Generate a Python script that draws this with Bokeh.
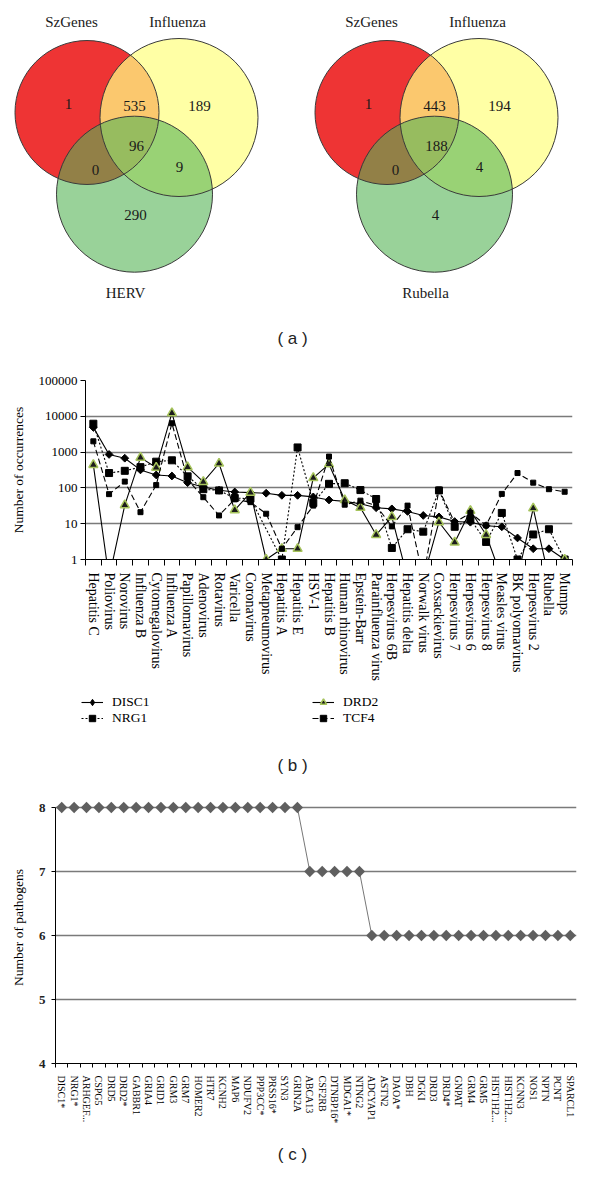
import numpy as np
from bokeh.plotting import figure
from bokeh.models import (Range1d, FixedTicker, CustomJSTickFormatter, NumeralTickFormatter,
                          Legend, LegendItem)
from bokeh.core.properties import value
from bokeh.embed import file_html
from bokeh.resources import INLINE

SERIF = "Liberation Serif"
SANS = "Liberation Sans"

# ---------------- data ----------------
# panel (a): region counts in order
# [only A, A&B, only B, A&B&C, A&C, B&C, only C]
venn1_sets = ["SzGenes", "Influenza", "HERV"]
venn1_counts = [1, 535, 189, 96, 0, 9, 290]
venn2_sets = ["SzGenes", "Influenza", "Rubella"]
venn2_counts = [1, 443, 194, 188, 0, 4, 4]

# panel (b)
viruses = ["Hepatitis C", "Poliovirus", "Norovirus", "Influenza B", "Cytomegalovirus",
           "Influenza A", "Papillomavirus", "Adenovirus", "Rotavirus", "Varicella",
           "Coronavirus", "Metapneumovirus", "Hepatitis A", "Hepatitis E", "HSV-1",
           "Hepatitis B", "Human rhinovirus", "Epstein-Barr", "Parainfluenza virus",
           "Herpesvirus 6B", "Hepatitis delta", "Norwalk virus", "Coxsackievirus",
           "Herpesvirus 7", "Herpesvirus 6", "Herpesvirus 8", "Measles virus",
           "BK polyomavirus", "Herpesvirus 2", "Rubella", "Mumps"]
disc1 = [4900, 860, 675, 318, 230, 215, 140, 106, 86, 77, 74, 71, 62, 62, 56, 46,
         42, 36, 28, 26, 22, 17, 15.5, 11.5, 11, 8.8, 8.2, 4, 2, 2, 1]
nrg1 = [6200, 260, 300, 380, 540, 590, 210, 92, 85, 52, 50, None, 1, 1350, 38, 130,
        135, 87, 49, 2.1, 7, 6, 85, 8.2, 13.5, 3.1, 20, 1, 5, 7, 1]
drd2 = [440, 0, 33, 700, 370, 12300, 380, 147, 480, 24, 74, 1, 2, 2, 190, 460,
        46, 28, 4.9, 15.6, 0, 0, 11, 3, 23, 4.9, 0, 0, 27, 0, 1]
tcf4 = [2000, 67, 150, 21, 120, 6400, 170, 55, 17, 48, 40, 19, 2, 8, 32, 750,
        34, 44, 32, 8.4, 32, 0, 90, 10.8, 20, 9, 68, 260, 140, 92, 78]
occ_ticks = [1, 10, 100, 1000, 10000, 100000]

# panel (c)
genes = ["DISC1*", "NRG1*", "ARHGEF...", "CSPG5", "DRD5", "DRD2*", "GABBR1", "GRIA4",
         "GRID1", "GRM3", "GRM7", "HOMER2", "HTR7", "KCNH2", "MAP6", "NDUFV2",
         "PPP3CC*", "PRSS16*", "SYN3", "GRIN2A", "ABCA13", "CSF2RB", "DTNBP16*",
         "MDGA1*", "NTNG2", "ADCYAP1", "ASTN2", "DAOA*", "DBH", "DGKI", "DRD3",
         "DRD4*", "GNPAT", "GRM4", "GRM5", "HIST1H2...", "HIST1H2...", "KCNN3",
         "NOS1", "NPTN", "PCNT", "SPARCL1"]
pathogens = [8, 8, 8, 8, 8, 8, 8, 8, 8, 8, 8, 8, 8, 8, 8, 8, 8, 8, 8, 8,
             7, 7, 7, 7, 7,
             6, 6, 6, 6, 6, 6, 6, 6, 6, 6, 6, 6, 6, 6, 6, 6, 6]
path_ticks = [4, 5, 6, 7, 8]

# ---------------- panel (a) ----------------
pa = figure(width=584, height=364, x_range=Range1d(8, 592), y_range=Range1d(372, 8),
            output_backend="svg", toolbar_location=None, x_axis_type=None,
            y_axis_type=None, min_border=0)
pa.outline_line_color = None

circles = [(94.5, 120, 72), (186.5, 125, 79), (142, 201.7, 78)]
fills = [("#EE3434", 1.0), ("#FFFF84", 0.73), ("#55B455", 0.6)]
set_label_pos = [(79, 29), (185, 29), (133, 300)]
count_pos = [(76, 111), (142, 113), (207, 113), (144, 153), (103, 177), (187, 174), (143, 222)]

for dx, sets, counts in [(0, venn1_sets, venn1_counts), (300, venn2_sets, venn2_counts)]:
    for (cx, cy, r), (c, a) in zip(circles, fills):
        pa.circle(x=[cx + dx], y=[cy], radius=r, fill_color=c, fill_alpha=a, line_color=None)
    for (cx, cy, r) in circles:
        pa.circle(x=[cx + dx], y=[cy], radius=r, fill_color=None, line_color="#3a3a3a",
                  line_width=1)
    pa.text(x=[p[0] + dx for p in set_label_pos], y=[p[1] for p in set_label_pos], text=sets,
            text_font=value(SERIF), text_font_size="15px", text_align="center",
            text_baseline="middle", text_color="#1a1a1a")
    pa.text(x=[p[0] + dx for p in count_pos], y=[p[1] for p in count_pos],
            text=[str(c) for c in counts], text_font=value(SERIF), text_font_size="15px",
            text_align="center", text_baseline="middle", text_color="#1a1a1a")

pa.text(x=[300], y=[346], text=["( a )"], text_font=value(SANS), text_font_size="17px",
        text_align="center", text_baseline="middle", text_color="#222222")

# ---------------- panel (b) ----------------
n = len(viruses)
pb = figure(width=584, height=323, y_axis_type="log", x_range=Range1d(0, n),
            y_range=Range1d(1, 100000), output_backend="svg", toolbar_location=None,
            min_border_left=85, min_border_right=12, min_border_top=16, min_border_bottom=128)
pb.outline_line_color = None
pb.xgrid.visible = False


def prep(vals):
    xs, ys = [], []
    for i, v in enumerate(vals):
        if v is None:
            continue
        xs.append(i + 0.5)
        ys.append(v if v > 0 else 0.3)
    return xs, ys


styles = {
    "DISC1": dict(dash="solid", marker="square", angle=np.pi / 4, size=5.5,
                  fill="black", line="black", lw=1),
    "NRG1": dict(dash="2 2", marker="square", angle=0, size=7, fill="black", line="black", lw=1),
    "DRD2": dict(dash="solid", marker="triangle", angle=0, size=9, fill="#1c1c1c",
                 line="#A6C45C", lw=1.5),
    "TCF4": dict(dash="6 3", marker="square", angle=0, size=5, fill="black", line="black", lw=1),
}
series = [("DISC1", disc1), ("NRG1", nrg1), ("DRD2", drd2), ("TCF4", tcf4)]
for name, vals in series:
    st = styles[name]
    xs, ys = prep(vals)
    pb.line(xs, ys, line_color="black", line_width=1.1, line_dash=st["dash"])
    pb.scatter(xs, ys, marker=st["marker"], angle=st["angle"], size=st["size"],
               fill_color=st["fill"], line_color=st["line"], line_width=st["lw"])

pb.yaxis.ticker = FixedTicker(ticks=occ_ticks)
pb.yaxis.formatter = NumeralTickFormatter(format="0")
pb.ygrid.grid_line_color = "#7a7a7a"
pb.ygrid.grid_line_width = 1.5
pb.yaxis.axis_line_color = "black"
pb.yaxis.major_tick_out = 5
pb.yaxis.major_tick_in = 0
pb.yaxis.minor_tick_line_color = None
pb.yaxis.major_label_standoff = 3
pb.yaxis.major_label_text_font = SERIF
pb.yaxis.major_label_text_font_size = "13px"
pb.yaxis.major_label_text_color = "black"
pb.yaxis.axis_label = "Number of occurrences"
pb.yaxis.axis_label_text_font = SERIF
pb.yaxis.axis_label_text_font_size = "13.5px"
pb.yaxis.axis_label_text_font_style = "normal"
pb.yaxis.axis_label_text_color = "black"
pb.yaxis.axis_label_standoff = 10

pb.xaxis.ticker = FixedTicker(ticks=list(np.arange(n) + 0.5), minor_ticks=list(np.arange(n + 1)))
pb.xaxis.formatter = CustomJSTickFormatter(args=dict(names=viruses),
                                           code="return names[Math.floor(tick)] || ''")
pb.xaxis.major_tick_out = 0
pb.xaxis.major_tick_in = 0
pb.xaxis.minor_tick_out = 6
pb.xaxis.minor_tick_in = 0
pb.xaxis.minor_tick_line_color = "black"
pb.xaxis.axis_line_color = "black"
pb.xaxis.major_label_orientation = "vertical"
pb.xaxis.major_label_standoff = 7
pb.xaxis.major_label_text_font = SERIF
pb.xaxis.major_label_text_font_size = "14px"
pb.xaxis.major_label_text_color = "black"

# legend + caption (b); the series renderers here fall outside this figure's ranges,
# they only supply the legend glyphs
pbl = figure(width=584, height=100, x_range=Range1d(89, 592), y_range=Range1d(795, 702),
             output_backend="svg", toolbar_location=None, x_axis_type=None, y_axis_type=None,
             min_border_left=81, min_border_top=7, min_border_right=0, min_border_bottom=0)
pbl.outline_line_color = None
legend_markers = {"DISC1": ("diamond", 10), "NRG1": ("square", 7),
                  "DRD2": ("triangle", 9), "TCF4": ("square", 5)}
items = []
for name, vals in series:
    st = styles[name]
    mk, sz = legend_markers[name]
    xs, ys = prep(vals)
    lr = pbl.line(xs, ys, line_color="black", line_width=1.1, line_dash=st["dash"])
    mr = pbl.scatter(xs, ys, marker=mk, size=sz,
                     fill_color=st["fill"], line_color=st["line"], line_width=st["lw"])
    items.append(LegendItem(label=name, renderers=[lr, mr]))
leg = Legend(items=items, location="top_left", orientation="vertical", ncols=2, margin=0,
             padding=2, spacing=0, glyph_width=22, glyph_height=16, label_height=16,
             label_width=200, label_standoff=9, border_line_color=None,
             background_fill_alpha=0, label_text_font=SERIF, label_text_font_size="13.5px",
             label_text_color="black")
pbl.add_layout(leg)
pbl.text(x=[300], y=[773], text=["( b )"], text_font=value(SANS), text_font_size="17px",
         text_align="center", text_baseline="middle", text_color="#222222")

# ---------------- panel (c) ----------------
m = len(genes)
pc = figure(width=584, height=350, x_range=Range1d(0, m), y_range=Range1d(4, 8.25),
            output_backend="svg", toolbar_location=None,
            min_border_left=55, min_border_right=8, min_border_top=4, min_border_bottom=74)
pc.outline_line_color = None
pc.xgrid.visible = False
xg = np.arange(m) + 0.5
pc.line(xg, pathogens, line_color="#777777", line_width=1)
pc.scatter(xg, pathogens, marker="square", angle=np.pi / 4, size=8, fill_color="#5f5f5f",
           line_color=None)

pc.yaxis.ticker = FixedTicker(ticks=path_ticks)
pc.yaxis.bounds = (4, 8)
pc.ygrid.grid_line_color = "#7a7a7a"
pc.ygrid.grid_line_width = 1.5
pc.yaxis.axis_line_color = "black"
pc.yaxis.major_tick_out = 4
pc.yaxis.major_tick_in = 0
pc.yaxis.minor_tick_line_color = None
pc.yaxis.major_label_standoff = 6
pc.yaxis.major_label_text_font = SERIF
pc.yaxis.major_label_text_font_size = "13px"
pc.yaxis.major_label_text_font_style = "bold"
pc.yaxis.major_label_text_color = "#222222"
pc.yaxis.axis_label = "Number of pathogens"
pc.yaxis.axis_label_text_font = SERIF
pc.yaxis.axis_label_text_font_size = "13.5px"
pc.yaxis.axis_label_text_font_style = "normal"
pc.yaxis.axis_label_text_color = "black"
pc.yaxis.axis_label_standoff = 10

pc.xaxis.ticker = FixedTicker(ticks=list(xg), minor_ticks=list(np.arange(m + 1)))
pc.xaxis.formatter = CustomJSTickFormatter(args=dict(names=genes),
                                           code="return names[Math.floor(tick)] || ''")
pc.xaxis.major_tick_out = 0
pc.xaxis.major_tick_in = 0
pc.xaxis.minor_tick_out = 4
pc.xaxis.minor_tick_in = 0
pc.xaxis.minor_tick_line_color = "black"
pc.xaxis.axis_line_color = "black"
pc.xaxis.major_label_orientation = "vertical"
pc.xaxis.major_label_standoff = 8
pc.xaxis.major_label_text_font = SERIF
pc.xaxis.major_label_text_font_size = "10px"
pc.xaxis.major_label_text_color = "black"

pcc = figure(width=584, height=32, x_range=Range1d(8, 592), y_range=Range1d(1177, 1145),
             output_backend="svg", toolbar_location=None, x_axis_type=None, y_axis_type=None,
             min_border=0)
pcc.outline_line_color = None
pcc.text(x=[300], y=[1162], text=["( c )"], text_font=value(SANS), text_font_size="17px",
         text_align="center", text_baseline="middle", text_color="#222222")

# separate roots so that Bokeh does not align the plot frames of the panels
open("out.html", "w").write(file_html([pa, pb, pbl, pc, pcc], INLINE))
